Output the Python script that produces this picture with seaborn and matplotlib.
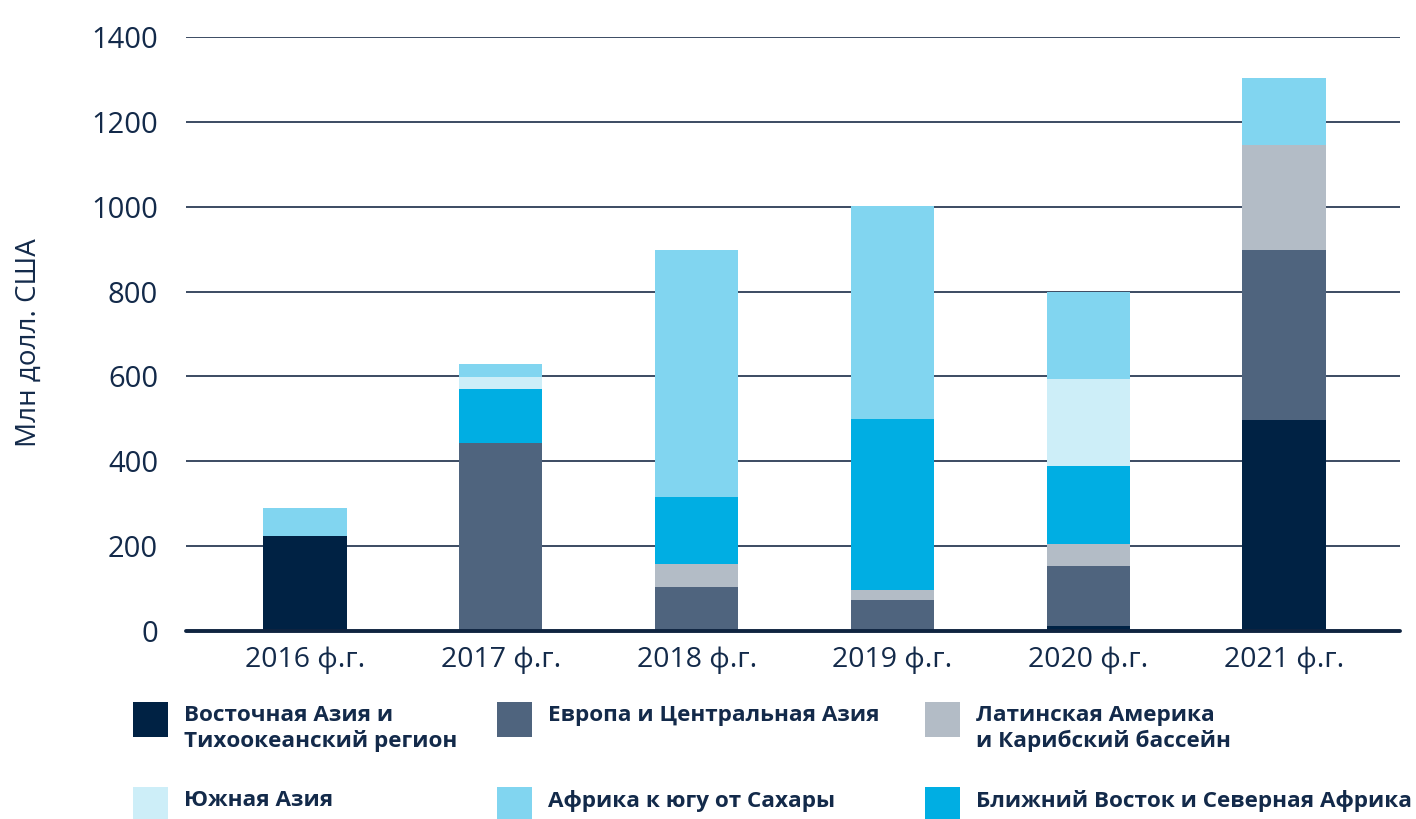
#!/usr/bin/env python3
#===============================================================================
# plot.py
#===============================================================================

# Imports ======================================================================

import numpy as np
import pandas as pd
import seaborn as sns
import matplotlib.pyplot as plt
from matplotlib.patches import Rectangle


# Data =========================================================================

YEARS = ['2016 ф.г.', '2017 ф.г.', '2018 ф.г.', '2019 ф.г.', '2020 ф.г.', '2021 ф.г.']

EAST_ASIA = [225, 0, 0, 0, 12, 498]
EUROPE = [0, 443, 104, 73, 141, 400]
LATIN_AMERICA = [0, 0, 54, 24, 52, 247]
MENA = [0, 127, 158, 403, 183, 0]
SOUTH_ASIA = [0, 29, 0, 0, 205, 0]
AFRICA = [65, 30, 582, 502, 207, 158]

REGIONS = [
    'Восточная Азия и\nТихоокеанский регион',
    'Европа и Центральная Азия',
    'Латинская Америка\nи Карибский бассейн',
    'Ближний Восток и Северная Африка',
    'Южная Азия',
    'Африка к югу от Сахары',
]

COLORS = ['#002244', '#4f647e', '#b3bcc6', '#00aee3', '#cdeef8', '#81d5f0']

TEXT_COLOR = '#132a4a'


# Functions ====================================================================

def main():
    sns.set_theme(style='white')
    plt.rcParams['font.family'] = ['Open Sans', 'DejaVu Sans']

    data = pd.DataFrame({
        'Year': YEARS * 6,
        'Region': np.repeat(REGIONS, len(YEARS)),
        'Value': EAST_ASIA + EUROPE + LATIN_AMERICA + MENA + SOUTH_ASIA + AFRICA,
    })

    fig = plt.figure(figsize=(14.16, 8.19), dpi=100)
    ax = fig.add_axes([186 / 1416, 1 - 631 / 819, 1214 / 1416, 594 / 819])

    bottom = np.zeros(len(YEARS))
    for region, color in zip(REGIONS, COLORS):
        sub = data[data['Region'] == region]
        sns.barplot(
            x='Year', y='Value', data=sub, order=YEARS, color=color,
            saturation=1, width=0.425, errorbar=None, bottom=bottom,
            linewidth=0, ax=ax
        )
        bottom = bottom + sub['Value'].to_numpy()

    ax.set_ylim(0, 1400)
    ax.set_xlim(-0.608, 5.592)
    ax.set_yticks(range(0, 1401, 200))
    ax.yaxis.grid(True, color='#2c3d56', linewidth=1.3)
    ax.set_axisbelow(True)
    ax.axhline(0, color='#0f2440', linewidth=2.8, clip_on=False, zorder=5)
    sns.despine(ax=ax, left=True, bottom=True)
    ax.tick_params(axis='y', length=0, pad=20, labelsize=21, labelcolor=TEXT_COLOR)
    ax.tick_params(axis='x', length=0, pad=11, labelsize=20.5, labelcolor=TEXT_COLOR)
    ax.set_xlabel('')
    ax.set_ylabel('Млн долл. США', fontsize=20, color=TEXT_COLOR)
    ax.yaxis.set_label_coords(-0.118, 0.485)

    # legend: two rows of three, squares aligned with first text line
    legend_order = [0, 1, 2, 4, 5, 3]
    col_x = [133, 497, 925]
    row_y = [702, 787]
    for k, idx in enumerate(legend_order):
        x0 = col_x[k % 3]
        y0 = row_y[k // 3]
        fig.add_artist(Rectangle(
            (x0 / 1416, 1 - (y0 + 35) / 819), 35 / 1416, 35 / 819,
            transform=fig.transFigure, color=COLORS[idx], linewidth=0
        ))
        fig.text(
            (x0 + 51) / 1416, 1 - (y0 + 3) / 819, REGIONS[idx],
            ha='left', va='top', fontsize=16.2, fontweight='bold',
            color=TEXT_COLOR, linespacing=1.22
        )

    fig.savefig('out.png', dpi=100)


# Execute ======================================================================

if __name__ == '__main__':
    main()
